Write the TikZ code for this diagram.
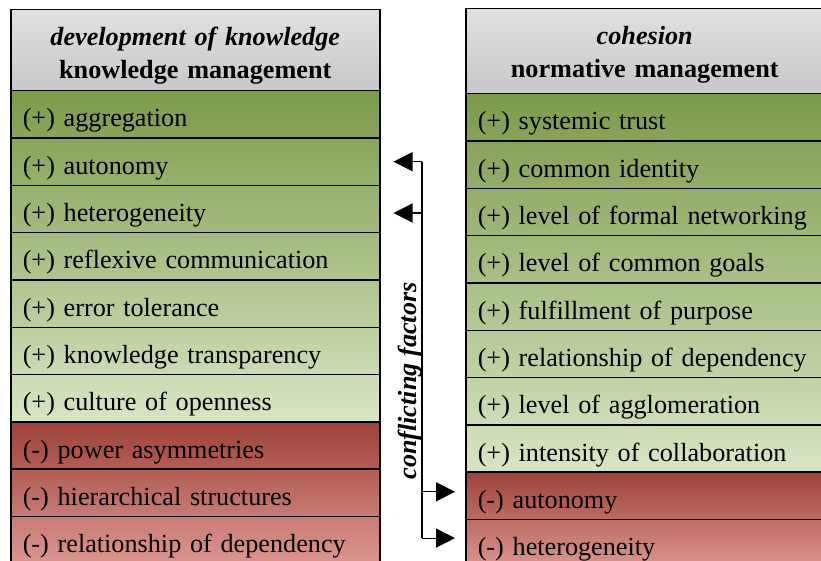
\documentclass[tikz,border=0pt]{standalone}
\usepackage{fontspec}
\setmainfont{Liberation Serif}
\usetikzlibrary{arrows.meta}
\definecolor{gdark}{RGB}{125,154,74}
\definecolor{glight}{RGB}{216,229,196}
\definecolor{rdark}{RGB}{158,66,58}
\definecolor{rlight}{RGB}{220,150,144}
\definecolor{hdlight}{RGB}{224,224,224}
\definecolor{hddark}{RGB}{200,200,200}
\tikzstyle{item}=[rectangle,draw=black,line width=1.5pt,anchor=north west,minimum height=47.3pt,inner xsep=12pt,inner ysep=0pt,text height=28pt,text depth=3pt,align=left,font=\fontsize{26.2}{30}\selectfont]
\tikzstyle{left_item}=[item,text width=345pt]
\tikzstyle{right_item}=[item,text width=334pt]
\tikzstyle{head}=[rectangle,draw=black,line width=1.5pt,anchor=north west,top color=hdlight,bottom color=hddark,align=center,inner xsep=12pt,inner ysep=0pt,text height=19pt,font=\fontsize{26.2}{33}\selectfont\bfseries]
\tikzstyle{link}=[line width=1.2pt]
\tikzstyle{conflict}=[link,-{Triangle[length=19pt,width=19pt]}]
\newcommand{\rowh}{47.3}

\begin{document}
\begin{tikzpicture}[x=1pt,y=-1pt]
  \useasboundingbox (0,0) rectangle (821,561);

  % development of knowledge
  \node[head,text width=345pt,text depth=28pt,minimum height=81pt] (headL) at (10,9)
    {{\itshape development of knowledge}\\knowledge management};
  \node[left_item,top color=gdark,bottom color=glight!14!gdark] (aggrL) at (10,90) {(+) aggregation};
  \node[left_item,top color=glight!14!gdark,bottom color=glight!29!gdark] (autoL) at (10,90+1*\rowh) {(+) autonomy};
  \node[left_item,top color=glight!29!gdark,bottom color=glight!43!gdark] (heteroL) at (10,90+2*\rowh) {(+) heterogeneity};
  \node[left_item,top color=glight!43!gdark,bottom color=glight!57!gdark] (reflexL) at (10,90+3*\rowh) {(+) reflexive communication};
  \node[left_item,top color=glight!57!gdark,bottom color=glight!71!gdark] (errorL) at (10,90+4*\rowh) {(+) error tolerance};
  \node[left_item,top color=glight!71!gdark,bottom color=glight!86!gdark] (transpL) at (10,90+5*\rowh) {(+) knowledge transparency};
  \node[left_item,top color=glight!86!gdark,bottom color=glight] (openL) at (10,90+6*\rowh) {(+) culture of openness};
  \node[left_item,top color=rdark,bottom color=rlight!33!rdark] (powerL) at (10,90+7*\rowh) {(-) power asymmetries};
  \node[left_item,top color=rlight!33!rdark,bottom color=rlight!67!rdark] (hierL) at (10,90+8*\rowh) {(-) hierarchical structures};
  \node[left_item,top color=rlight!67!rdark,bottom color=rlight] (dependL) at (10,90+9*\rowh) {(-) relationship of dependency};

  % cohesion
  \node[head,text width=334pt,text depth=32pt,minimum height=85pt] (headR) at (465,8)
    {{\itshape cohesion}\\normative management};
  \node[right_item,top color=gdark,bottom color=glight!13!gdark] (trustR) at (465,93) {(+) systemic trust};
  \node[right_item,top color=glight!13!gdark,bottom color=glight!25!gdark] (identR) at (465,93+1*\rowh) {(+) common identity};
  \node[right_item,top color=glight!25!gdark,bottom color=glight!38!gdark] (networkR) at (465,93+2*\rowh) {(+) level of formal networking};
  \node[right_item,top color=glight!38!gdark,bottom color=glight!50!gdark] (goalsR) at (465,93+3*\rowh) {(+) level of common goals};
  \node[right_item,top color=glight!50!gdark,bottom color=glight!63!gdark] (purposeR) at (465,93+4*\rowh) {(+) fulfillment of purpose};
  \node[right_item,top color=glight!63!gdark,bottom color=glight!75!gdark] (dependR) at (465,93+5*\rowh) {(+) relationship of dependency};
  \node[right_item,top color=glight!75!gdark,bottom color=glight!88!gdark] (agglomR) at (465,93+6*\rowh) {(+) level of agglomeration};
  \node[right_item,top color=glight!88!gdark,bottom color=glight] (collabR) at (465,93+7*\rowh) {(+) intensity of collaboration};
  \node[right_item,top color=rdark,bottom color=rlight!50!rdark] (autoR) at (465,93+8*\rowh) {(-) autonomy};
  \node[right_item,top color=rlight!50!rdark,bottom color=rlight] (heteroR) at (465,93+9*\rowh) {(-) heterogeneity};

  % conflicting factors
  \coordinate (spine) at (422,0);
  \node[rotate=90,font=\fontsize{26.2}{30}\selectfont\bfseries\itshape] (conflictLabel) at (410,381) {conflicting factors};
  \draw[link] (autoL.east -| spine) -- ([yshift=5pt]heteroR.west -| spine);
  \draw[conflict,shorten >=13pt] (autoL.east -| spine) -- (autoL.east);
  \draw[conflict,shorten >=13pt] ([yshift=-4pt]heteroL.east -| spine) -- ([yshift=-4pt]heteroL.east);
  \draw[conflict,shorten >=10pt] ([yshift=4pt]autoR.west -| spine) -- ([yshift=4pt]autoR.west);
  \draw[conflict,shorten >=10pt] ([yshift=5pt]heteroR.west -| spine) -- ([yshift=5pt]heteroR.west);
\end{tikzpicture}
\end{document}
